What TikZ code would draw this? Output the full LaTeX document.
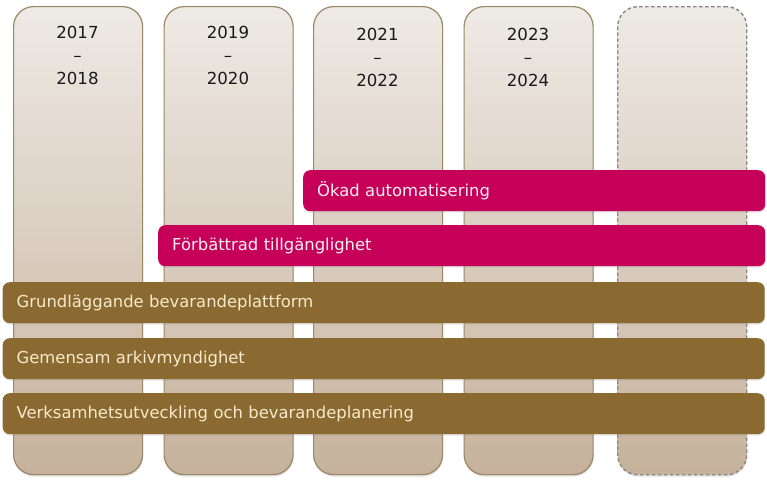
\documentclass[tikz,border=0pt]{standalone}
\usepackage{fontspec}
\setmainfont{DejaVu Sans}
\usetikzlibrary{shadows}
\definecolor{coltop}{HTML}{EEEAE5}
\definecolor{colbot}{HTML}{C6B29C}
\definecolor{colborder}{HTML}{9A8866}
\definecolor{dashborder}{HTML}{8E857C}
\definecolor{barbrown}{HTML}{8A6A30}
\definecolor{brownText}{HTML}{F7E9CC}
\definecolor{barmag}{HTML}{C60058}
\definecolor{magText}{HTML}{FCEEF3}
\definecolor{yearText}{HTML}{1A1A1A}
\tikzset{
  colbox/.style={anchor=north west, minimum width=129pt, minimum height=468pt,
    inner sep=0pt, rounded corners=20pt, top color=coltop, bottom color=colbot,
    draw=colborder, line width=1.2pt,
    drop shadow={opacity=0.25, shadow xshift=0.5pt, shadow yshift=-2pt}},
  dashbox/.style={colbox, draw=dashborder, line width=1.4pt, dash pattern=on 3.5pt off 2.5pt},
  yeartext/.style={font=\fontsize{16.6}{23}\selectfont, text=yearText, align=center, inner sep=0pt},
  bar/.style={anchor=north west, minimum height=41pt, inner xsep=14pt, inner ysep=0pt,
    rounded corners=7pt, font=\fontsize{16.4}{19}\selectfont, align=left,
    drop shadow={opacity=0.2, shadow xshift=0.5pt, shadow yshift=-1.5pt}},
  brownbar/.style={bar, fill=barbrown, text=brownText},
  magbar/.style={bar, fill=barmag, text=magText}
}
\begin{document}
\begin{tikzpicture}[x=1pt, y=-1pt]
\useasboundingbox (0,0) rectangle (767,488);
% columns
\node[colbox] (c1) at (13,6) {};
\node[colbox] (c2) at (163.5,6) {};
\node[colbox] (c3) at (313,6) {};
\node[colbox] (c4) at (463.5,6) {};
\node[dashbox] (c5) at (617,6) {};
% year labels
\node[yeartext] (y1) at (77.5,55) {2017\\–\\2018};
\node[yeartext] (y2) at (228,55) {2019\\–\\2020};
\node[yeartext] (y3) at (377.5,57) {2021\\–\\2022};
\node[yeartext] (y4) at (528,57) {2023\\–\\2024};
% bars
\node[magbar, minimum width=462pt, text width=434pt] (b1) at (303,170) {Ökad automatisering};
\node[magbar, minimum width=607pt, text width=579pt] (b2) at (158,225) {Förbättrad tillgänglighet};
\node[brownbar, minimum width=762pt, text width=734pt] (b3) at (2.5,282) {Grundläggande bevarandeplattform};
\node[brownbar, minimum width=762pt, text width=734pt] (b4) at (2.5,338) {Gemensam arkivmyndighet};
\node[brownbar, minimum width=762pt, text width=734pt] (b5) at (2.5,393) {Verksamhetsutveckling och bevarandeplanering};
\end{tikzpicture}
\end{document}
